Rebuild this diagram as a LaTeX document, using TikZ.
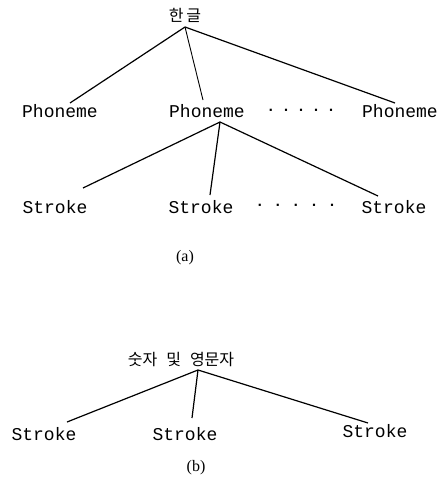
\documentclass[tikz,border=0pt]{standalone}
\usepackage{fontspec}
\setmainfont{Liberation Serif}
\setmonofont{Liberation Mono}
\newfontfamily\kor{Noto Sans CJK KR}
\begin{document}
\begin{tikzpicture}[x=1pt,y=-1pt,
  lbl/.style={font=\ttfamily\fontsize{18}{18}\selectfont, inner sep=0pt, anchor=center},
  dotrow/.style={font=\ttfamily\bfseries\fontsize{15}{15}\selectfont, inner sep=0pt},
  kr/.style={font=\kor\fontsize{16}{16}\selectfont, inner sep=0pt},
  captxt/.style={font=\fontsize{16}{16}\selectfont, inner sep=0pt},
  conn/.style={line width=1.2pt}]
\useasboundingbox (0,0) rectangle (444,487);
% (a)
\node[kr] (han) at (185,15) {한\,글};
\coordinate (hanA) at (185,27);
\node[lbl] (p1) at (60,111) {Phoneme};
\node[lbl] (p2) at (207,111) {Phoneme};
\node[lbl] (p3) at (400,111) {Phoneme};
\node[dotrow] (pd) at (301,112) {·\hspace{6pt}·\hspace{6pt}·\hspace{6pt}·\hspace{6pt}·};
\coordinate (p1e) at (70,103);
\coordinate (p2e) at (203,100);
\coordinate (p3e) at (395,103);
\coordinate (p2A) at (220,122);
\draw[conn] (hanA) -- (p1e);
\draw[conn, line width=0.9pt] (hanA) -- (p2e);
\draw[conn] (hanA) -- (p3e);
\node[lbl] (s1) at (55,207) {Stroke};
\node[lbl] (s2) at (201,207) {Stroke};
\node[lbl] (s3) at (394,207) {Stroke};
\node[dotrow] (sd) at (296,207) {·\hspace{9pt}·\hspace{9pt}·\hspace{9pt}·\hspace{9pt}·};
\coordinate (s1e) at (83,188);
\coordinate (s2e) at (210,195);
\coordinate (s3e) at (378,196);
\draw[conn] (p2A) -- (s1e);
\draw[conn] (p2A) -- (s2e);
\draw[conn] (p2A) -- (s3e);
\node[captxt] (ca) at (185,258) {(a)};
% (b)
\node[kr] (num) at (181,360) {숫자\hspace{9pt}및\hspace{9pt}영문자};
\coordinate (numA) at (198,370);
\node[lbl] (b1) at (44,434) {Stroke};
\node[lbl] (b2) at (185,434) {Stroke};
\node[lbl] (b3) at (375,431) {Stroke};
\coordinate (b1e) at (67,422);
\coordinate (b2e) at (192,418);
\coordinate (b3e) at (368,423);
\draw[conn] (numA) -- (b1e);
\draw[conn] (numA) -- (b2e);
\draw[conn] (numA) -- (b3e);
\node[captxt] (cb) at (196,468) {(b)};
\end{tikzpicture}
\end{document}
